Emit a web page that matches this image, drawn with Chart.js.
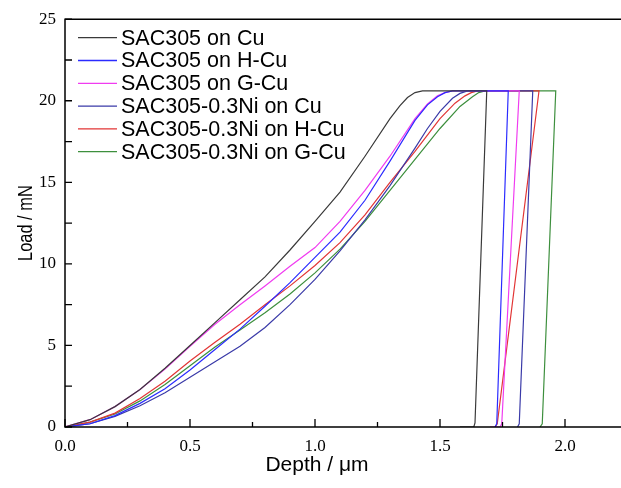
<!DOCTYPE html>
<html>
<head>
<meta charset="utf-8">
<title>Load - Depth</title>
<script src="https://cdn.jsdelivr.net/npm/chart.js@4.4.1/dist/chart.umd.min.js"></script>
<style>
  html, body { margin: 0; padding: 0; background: #fff; overflow: hidden; }
  #wrap { width: 621px; height: 488px; position: relative; }
</style>
</head>
<body>
<div id="wrap"><canvas id="chart"></canvas></div>
<script>
'use strict';

/* ---- data (depth in um, load in mN) ---- */
const seriesNames = [
  'SAC305 on Cu',
  'SAC305 on H-Cu',
  'SAC305 on G-Cu',
  'SAC305-0.3Ni on Cu',
  'SAC305-0.3Ni on H-Cu',
  'SAC305-0.3Ni on G-Cu'
];

const depthCu    = [0, 0.1, 0.2, 0.3, 0.4, 0.5, 0.6, 0.7, 0.8, 0.9, 1.0, 1.1, 1.2, 1.3, 1.34, 1.37, 1.40, 1.43, 1.687, 1.64, 1.635, 1.58];
const loadCu     = [0, 0.45, 1.25, 2.3, 3.6, 5.0, 6.4, 7.8, 9.2, 10.85, 12.6, 14.4, 16.6, 18.9, 19.7, 20.2, 20.5, 20.6, 20.6, 0.25, 0, 0];

const depthHCu   = [0, 0.1, 0.2, 0.3, 0.4, 0.5, 0.6, 0.7, 0.8, 0.9, 1.0, 1.1, 1.2, 1.3, 1.4, 1.45, 1.49, 1.52, 1.55, 1.773, 1.727, 1.72];
const loadHCu    = [0, 0.2, 0.7, 1.45, 2.35, 3.5, 4.75, 6.0, 7.4, 8.85, 10.4, 11.95, 13.9, 16.3, 18.8, 19.75, 20.25, 20.5, 20.6, 20.6, 0.2, 0];

const depthGCu   = [0, 0.1, 0.2, 0.3, 0.4, 0.5, 0.6, 0.7, 0.8, 0.9, 1.0, 1.1, 1.2, 1.3, 1.4, 1.45, 1.49, 1.52, 1.55, 1.817, 1.747, 1.74, 1.70];
const loadGCu    = [0, 0.45, 1.25, 2.3, 3.55, 4.95, 6.3, 7.5, 8.65, 9.85, 11.0, 12.6, 14.5, 16.6, 18.9, 19.8, 20.3, 20.5, 20.6, 20.6, 0.2, 0, 0];

const depthNiCu  = [0, 0.1, 0.2, 0.3, 0.4, 0.5, 0.6, 0.7, 0.8, 0.9, 1.0, 1.1, 1.2, 1.3, 1.4, 1.45, 1.5, 1.55, 1.58, 1.61, 1.871, 1.817, 1.81];
const loadNiCu   = [0, 0.2, 0.65, 1.3, 2.1, 3.05, 4.0, 4.95, 6.1, 7.5, 9.05, 10.8, 12.7, 14.8, 17.1, 18.3, 19.35, 20.15, 20.45, 20.6, 20.6, 0.2, 0];

const depthNiHCu = [0, 0.1, 0.2, 0.3, 0.4, 0.5, 0.6, 0.7, 0.8, 0.9, 1.0, 1.1, 1.2, 1.3, 1.4, 1.5, 1.56, 1.6, 1.625, 1.65, 1.896, 1.729, 1.72];
const loadNiHCu  = [0, 0.3, 0.85, 1.75, 2.8, 4.05, 5.2, 6.3, 7.5, 8.65, 9.9, 11.3, 13.0, 15.0, 16.9, 18.9, 19.85, 20.3, 20.5, 20.6, 20.6, 0.2, 0];

const depthNiGCu = [0, 0.1, 0.2, 0.3, 0.4, 0.5, 0.6, 0.7, 0.8, 0.9, 1.0, 1.1, 1.2, 1.3, 1.4, 1.5, 1.58, 1.63, 1.655, 1.68, 1.963, 1.909, 1.90];
const loadNiGCu  = [0, 0.3, 0.8, 1.6, 2.6, 3.75, 4.9, 5.95, 7.0, 8.15, 9.45, 10.9, 12.6, 14.5, 16.4, 18.3, 19.65, 20.25, 20.5, 20.6, 20.6, 0.2, 0];

/* ---- axis ticks ---- */
const xMajorTicks = [0, 0.5, 1.0, 1.5, 2.0];
const xMinorTicks = [0.25, 0.75, 1.25, 1.75];
const yMajorTicks = [0, 5, 10, 15, 20, 25];
const yMinorTicks = [2.5, 7.5, 12.5, 17.5, 22.5];

/* ---- styles ---- */
const lineColors = ['#3a3a3a', '#2b2bff', '#f03cf0', '#3a3aa8', '#e23535', '#3d8f3d'];

function toPoints(xs, ys) {
  return xs.map((v, i) => ({ x: v, y: ys[i] }));
}

const curves = [
  [depthCu, loadCu], [depthHCu, loadHCu], [depthGCu, loadGCu],
  [depthNiCu, loadNiCu], [depthNiHCu, loadNiHCu], [depthNiGCu, loadNiGCu]
];

const datasets = curves.map((c, i) => ({
  label: seriesNames[i],
  data: toPoints(c[0], c[1]),
  borderColor: lineColors[i],
  backgroundColor: lineColors[i],
  borderWidth: 1.2,
  pointRadius: 0,
  showLine: true,
  tension: 0
}));

/* frame, inward ticks, legend and axis titles */
const decorPlugin = {
  id: 'decor',
  afterDraw(chart) {
    const { ctx, chartArea: a, scales } = chart;
    const sx = scales.x, sy = scales.y;
    ctx.save();

    // frame (left, bottom, top)
    ctx.strokeStyle = '#000';
    ctx.lineWidth = 1.5;
    ctx.beginPath();
    ctx.moveTo(a.right, a.top);
    ctx.lineTo(a.left, a.top);
    ctx.lineTo(a.left, a.bottom);
    ctx.lineTo(a.right, a.bottom);
    ctx.stroke();

    // inward tick marks
    ctx.lineWidth = 1.3;
    ctx.beginPath();
    xMajorTicks.forEach(v => { const p = sx.getPixelForValue(v); ctx.moveTo(p, a.bottom); ctx.lineTo(p, a.bottom - 8); });
    xMinorTicks.forEach(v => { const p = sx.getPixelForValue(v); ctx.moveTo(p, a.bottom); ctx.lineTo(p, a.bottom - 5); });
    yMajorTicks.forEach(v => { const p = sy.getPixelForValue(v); ctx.moveTo(a.left, p); ctx.lineTo(a.left + 7, p); });
    yMinorTicks.forEach(v => { const p = sy.getPixelForValue(v); ctx.moveTo(a.left, p); ctx.lineTo(a.left + 7, p); });
    ctx.stroke();

    // legend inside the plot, top left
    ctx.font = '21.5px "Liberation Sans", Arial, sans-serif';
    ctx.textBaseline = 'middle';
    ctx.textAlign = 'left';
    chart.data.datasets.forEach((ds, i) => {
      const yy = a.top + 18.5 + i * 22.8;
      ctx.strokeStyle = ds.borderColor;
      ctx.lineWidth = 1.3;
      ctx.beginPath();
      ctx.moveTo(a.left + 13, yy);
      ctx.lineTo(a.left + 52, yy);
      ctx.stroke();
      ctx.fillStyle = '#000';
      ctx.fillText(ds.label, a.left + 56, yy + 1);
    });

    // axis titles
    ctx.fillStyle = '#000';
    ctx.font = '21px "Liberation Sans", Arial, sans-serif';
    ctx.textAlign = 'center';
    ctx.fillText('Depth / \u03bcm', 317, 465);
    ctx.translate(26, (a.top + a.bottom) / 2);
    ctx.rotate(-Math.PI / 2);
    ctx.scale(0.82, 1);
    ctx.font = '20px "Liberation Sans", Arial, sans-serif';
    ctx.fillText('Load / mN', 0, 0);
    ctx.restore();
  }
};

const tickFont = { family: '"Liberation Serif", "Times New Roman", serif', size: 17 };

new Chart(document.getElementById('chart'), {
  type: 'scatter',
  data: { datasets: datasets },
  options: {
    responsive: true,
    maintainAspectRatio: false,
    animation: false,
    layout: { padding: { top: 17, right: 0, bottom: 0, left: 0 } },
    plugins: {
      legend: { display: false },
      tooltip: { enabled: false }
    },
    scales: {
      x: {
        type: 'linear',
        min: 0,
        max: 2.224,
        grid: { display: false, drawTicks: false },
        border: { display: false },
        afterBuildTicks: axis => { axis.ticks = xMajorTicks.map(v => ({ value: v })); },
        afterFit: axis => { axis.height = 61; },
        ticks: {
          autoSkip: false, maxRotation: 0, padding: 9, color: '#000', font: tickFont,
          callback: v => Number(v).toFixed(1)
        }
      },
      y: {
        type: 'linear',
        min: 0,
        max: 25,
        grid: { display: false, drawTicks: false },
        border: { display: false },
        afterBuildTicks: axis => { axis.ticks = yMajorTicks.map(v => ({ value: v })); },
        afterFit: axis => { axis.width = 65; },
        ticks: {
          autoSkip: false, padding: 9, color: '#000', font: tickFont,
          callback: v => String(v)
        }
      }
    }
  },
  plugins: [decorPlugin]
});
</script>
</body>
</html>
